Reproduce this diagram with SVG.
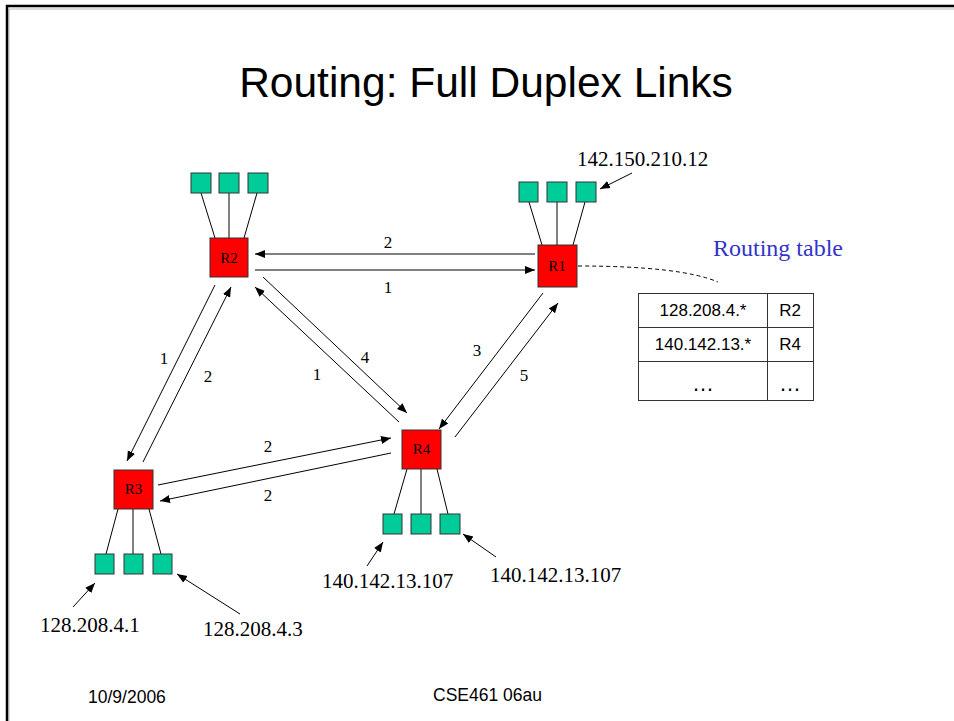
<svg xmlns="http://www.w3.org/2000/svg" width="954" height="721" viewBox="0 0 954 721">
  <style>
    .router { fill: #FF0000; stroke: #333333; stroke-width: 1; }
    .host { fill: #00CC99; stroke: #333333; stroke-width: 1; }
    .wire { stroke: #000000; stroke-width: 1; fill: none; }
    .link { stroke: #000000; stroke-width: 1; fill: none; }
    .rlabel { font-family: "Liberation Serif", "Times New Roman", serif; font-size: 15px; fill: #000; text-anchor: middle; }
    .num { font-family: "Liberation Serif", "Times New Roman", serif; font-size: 17px; fill: #000; text-anchor: middle; }
    .ip { font-family: "Liberation Serif", "Times New Roman", serif; font-size: 21px; fill: #000; }
    .cell { font-family: "Liberation Sans", Arial, sans-serif; font-size: 17px; fill: #000; text-anchor: middle; }
    .dots { font-family: "Liberation Sans", Arial, sans-serif; font-size: 22px; fill: #000; text-anchor: middle; }
    .foot { font-family: "Liberation Sans", Arial, sans-serif; font-size: 17.5px; fill: #000; }
  </style>
  <defs>
    <marker id="arrow" viewBox="0 0 10 10" refX="10" refY="5" markerWidth="10" markerHeight="10" markerUnits="userSpaceOnUse" orient="auto">
      <path d="M0,1 L10,5 L0,9 Z" fill="#000"/>
    </marker>
  </defs>

  <rect x="0" y="0" width="954" height="721" fill="#FFFFFF"/>

  <!-- slide frame -->
  <path d="M9,721 V9 H954" fill="none" stroke="#BBBBBB" stroke-width="1"/>
  <path d="M7,721 V6 H954" fill="none" stroke="#000000" stroke-width="2.5"/>

  <!-- title -->
  <text x="486" y="97" font-family="'Liberation Sans', Arial, sans-serif" font-size="42.5" text-anchor="middle" fill="#000">Routing: Full Duplex Links</text>

  <!-- links between routers -->
  <g id="connectors">
    <!-- R1 <-> R2 -->
    <line class="link" x1="535" y1="254" x2="255" y2="254" marker-end="url(#arrow)"/>
    <line class="link" x1="255" y1="270" x2="535" y2="270" marker-end="url(#arrow)"/>
    <!-- R2 <-> R3 -->
    <line class="link" x1="215" y1="285" x2="127" y2="461" marker-end="url(#arrow)"/>
    <line class="link" x1="143" y1="462" x2="231" y2="287" marker-end="url(#arrow)"/>
    <!-- R2 <-> R4 -->
    <line class="link" x1="263" y1="277" x2="407" y2="413" marker-end="url(#arrow)"/>
    <line class="link" x1="399" y1="422" x2="255" y2="287" marker-end="url(#arrow)"/>
    <!-- R1 <-> R4 -->
    <line class="link" x1="543" y1="293" x2="439" y2="429" marker-end="url(#arrow)"/>
    <line class="link" x1="455" y1="437" x2="558" y2="303" marker-end="url(#arrow)"/>
    <!-- R3 <-> R4 -->
    <line class="link" x1="158" y1="485" x2="391" y2="438" marker-end="url(#arrow)"/>
    <line class="link" x1="391" y1="453" x2="160" y2="501" marker-end="url(#arrow)"/>

    <!-- address pointers -->
    <line class="link" x1="632" y1="173" x2="600" y2="189" marker-end="url(#arrow)"/>
    <line class="link" x1="73" y1="607" x2="95" y2="583" marker-end="url(#arrow)"/>
    <line class="link" x1="240" y1="614" x2="177" y2="574" marker-end="url(#arrow)"/>
    <line class="link" x1="367" y1="566" x2="383" y2="542" marker-end="url(#arrow)"/>
    <line class="link" x1="496" y1="557" x2="463" y2="534" marker-end="url(#arrow)"/>

    <!-- R1 to its routing table -->
    <path d="M578,266 Q680,266 718,282" fill="none" stroke="#000" stroke-width="1" stroke-dasharray="4,3"/>

    <!-- link cost labels -->
    <text class="num" x="388" y="248">2</text>
    <text class="num" x="388" y="293">1</text>
    <text class="num" x="164" y="364">1</text>
    <text class="num" x="208" y="382">2</text>
    <text class="num" x="365" y="363">4</text>
    <text class="num" x="317" y="380">1</text>
    <text class="num" x="477" y="356">3</text>
    <text class="num" x="524" y="381">5</text>
    <text class="num" x="268" y="452">2</text>
    <text class="num" x="268" y="501">2</text>
  </g>

  <!-- router R2 with its hosts -->
  <g id="R2">
    <line class="wire" x1="201" y1="193" x2="215" y2="238"/>
    <line class="wire" x1="229" y1="193" x2="229" y2="238"/>
    <line class="wire" x1="257" y1="193" x2="244" y2="238"/>
    <rect class="host" x="191" y="173" width="20" height="20"/>
    <rect class="host" x="219" y="173" width="20" height="20"/>
    <rect class="host" x="248" y="173" width="20" height="20"/>
    <rect class="router" x="210" y="238" width="38" height="39"/>
    <text class="rlabel" x="229" y="263">R2</text>
  </g>

  <!-- router R1 with its hosts -->
  <g id="R1">
    <line class="wire" x1="529" y1="202" x2="542" y2="245"/>
    <line class="wire" x1="557" y1="202" x2="557" y2="245"/>
    <line class="wire" x1="585" y1="202" x2="573" y2="245"/>
    <rect class="host" x="519" y="182" width="19" height="20"/>
    <rect class="host" x="547" y="182" width="20" height="20"/>
    <rect class="host" x="576" y="182" width="20" height="20"/>
    <rect class="router" x="538" y="245" width="39" height="42"/>
    <text class="rlabel" x="557" y="271">R1</text>
    <text class="ip" x="577" y="166">142.150.210.12</text>
  </g>

  <!-- router R3 with its hosts -->
  <g id="R3">
    <line class="wire" x1="118" y1="509" x2="106" y2="554"/>
    <line class="wire" x1="133" y1="509" x2="133" y2="554"/>
    <line class="wire" x1="149" y1="509" x2="161" y2="554"/>
    <rect class="host" x="95" y="554" width="19" height="20"/>
    <rect class="host" x="124" y="554" width="19" height="20"/>
    <rect class="host" x="153" y="554" width="19" height="20"/>
    <rect class="router" x="114" y="470" width="39" height="39"/>
    <text class="rlabel" x="133.5" y="494">R3</text>
    <text class="ip" x="40" y="632">128.208.4.1</text>
    <text class="ip" x="203" y="636">128.208.4.3</text>
  </g>

  <!-- router R4 with its hosts -->
  <g id="R4">
    <line class="wire" x1="407" y1="469" x2="394" y2="514"/>
    <line class="wire" x1="421" y1="469" x2="421" y2="514"/>
    <line class="wire" x1="437" y1="469" x2="448" y2="514"/>
    <rect class="host" x="383" y="514" width="19" height="20"/>
    <rect class="host" x="411" y="514" width="20" height="20"/>
    <rect class="host" x="440" y="514" width="20" height="20"/>
    <rect class="router" x="402" y="430" width="39" height="39"/>
    <text class="rlabel" x="421.5" y="454">R4</text>
    <text class="ip" x="322" y="588">140.142.13.107</text>
    <text class="ip" x="490" y="582">140.142.13.107</text>
  </g>

  <!-- routing table of R1 -->
  <g id="routing-table">
    <text x="713" y="256" font-family="'Liberation Serif', 'Times New Roman', serif" font-size="24" fill="#3333CC">Routing table</text>
    <rect x="638.5" y="293.5" width="175" height="107" fill="#FFFFFF" stroke="#333333" stroke-width="1"/>
    <line x1="767.5" y1="293.5" x2="767.5" y2="400.5" stroke="#333333" stroke-width="1"/>
    <line x1="638.5" y1="327.5" x2="813.5" y2="327.5" stroke="#333333" stroke-width="1"/>
    <line x1="638.5" y1="361.5" x2="813.5" y2="361.5" stroke="#333333" stroke-width="1"/>
    <text class="cell" x="703" y="316">128.208.4.*</text>
    <text class="cell" x="790" y="316">R2</text>
    <text class="cell" x="703" y="350">140.142.13.*</text>
    <text class="cell" x="790" y="350">R4</text>
    <text class="dots" x="703" y="391">…</text>
    <text class="dots" x="790" y="391">…</text>
  </g>

  <!-- footer -->
  <text class="foot" x="88" y="703">10/9/2006</text>
  <text class="foot" x="433" y="701">CSE461 06au</text>
</svg>
